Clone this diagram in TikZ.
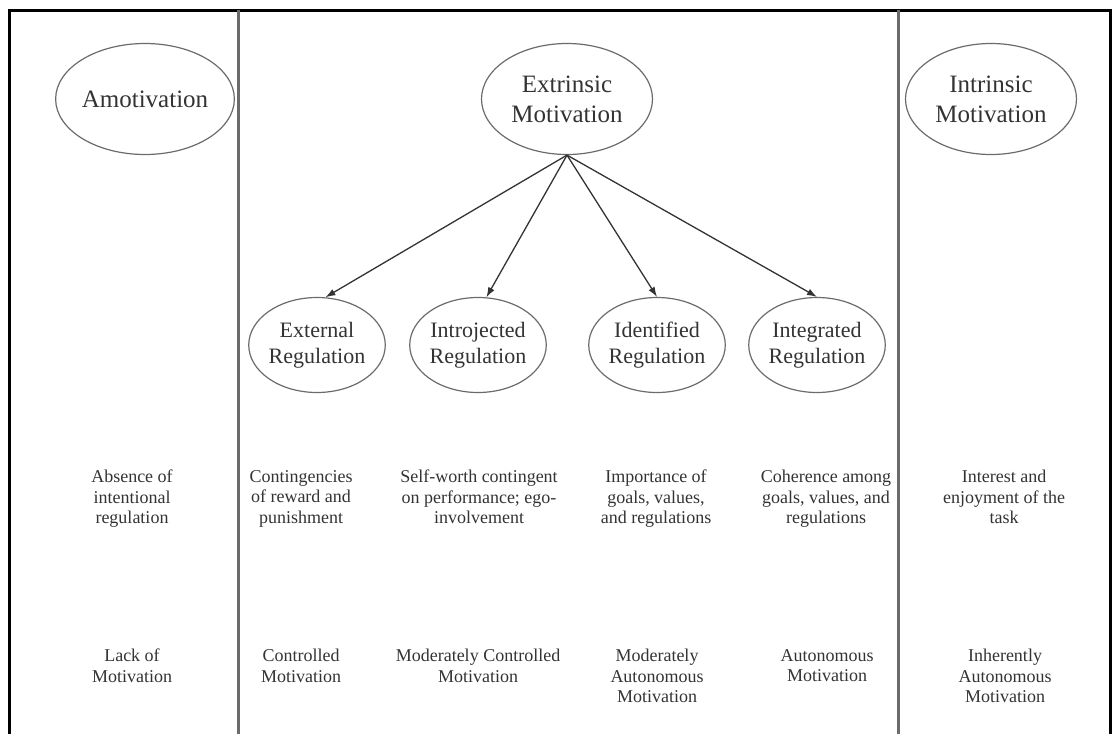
\documentclass[tikz,border=0pt]{standalone}
\usepackage{fontspec}
\setmainfont{Liberation Serif}
\usepackage{tikz}
\usetikzlibrary{shapes.geometric,arrows.meta}
\definecolor{ink}{gray}{0.2}
\definecolor{rim}{gray}{0.42}

\begin{document}
\begin{tikzpicture}[x=1pt,y=-1pt,
  big/.style={ellipse,draw=rim,line width=1.2pt,minimum width=171pt,minimum height=111pt,inner sep=0pt,align=center,text=ink,font=\fontsize{25}{30}\selectfont},
  small/.style={ellipse,draw=rim,line width=1.2pt,minimum width=129pt,minimum height=95pt,inner sep=0pt,align=center,text=ink,font=\fontsize{22}{25.5}\selectfont},
  note/.style={anchor=north,align=center,inner sep=0pt,text=ink,font=\fontsize{18}{20.5}\selectfont},
  link/.style={draw=ink,line width=1.3pt,-{Latex[length=10pt,width=7pt]}},
  wall/.style={draw=rim,line width=3pt}]
\useasboundingbox (0,0) rectangle (1117,734);
\draw[line width=3pt] (9,734) -- (9,10) -- (1110,10) -- (1110,734);
\draw[wall] (238,10) -- (238,734);\draw[wall] (898,10) -- (898,734);
\node[big] (am) at (145,99) {Amotivation};
\node[big] (ex) at (567,99) {Extrinsic\\Motivation};
\node[big] (im) at (991,99) {Intrinsic\\Motivation};
\node[small] (er) at (317,345) {External\\Regulation};
\node[small] (ij) at (478,345) {Introjected\\Regulation};
\node[small] (id) at (657,345) {Identified\\Regulation};
\node[small] (ig) at (817,345) {Integrated\\Regulation};
\draw[link] (ex.south) -- (er.80);\draw[link] (ex.south) -- (ij.80);
\draw[link] (ex.south) -- (id.north);\draw[link] (ex.south) -- (ig.north);
\node[note] (am1) at (132,470) {Absence of\\intentional\\regulation};
\node[note] (er1) at (301,470) {Contingencies\\of reward and\\punishment};
\node[note] (ij1) at (479,470) {Self-worth contingent\\on performance; ego-\\involvement};
\node[note] (id1) at (656,470) {Importance of\\goals, values,\\and regulations};
\node[note] (ig1) at (826,470) {Coherence among\\goals, values, and\\regulations};
\node[note] (im1) at (1004,470) {Interest and\\enjoyment of the\\task};
\node[note] (am2) at (132,649) {Lack of\\Motivation};
\node[note] (er2) at (301,649) {Controlled\\Motivation};
\node[note] (ij2) at (478,649) {Moderately Controlled\\Motivation};
\node[note] (id2) at (657,649) {Moderately\\Autonomous\\Motivation};
\node[note] (ig2) at (827,649) {Autonomous\\Motivation};
\node[note] (im2) at (1005,649) {Inherently\\Autonomous\\Motivation};
\end{tikzpicture}
\end{document}
